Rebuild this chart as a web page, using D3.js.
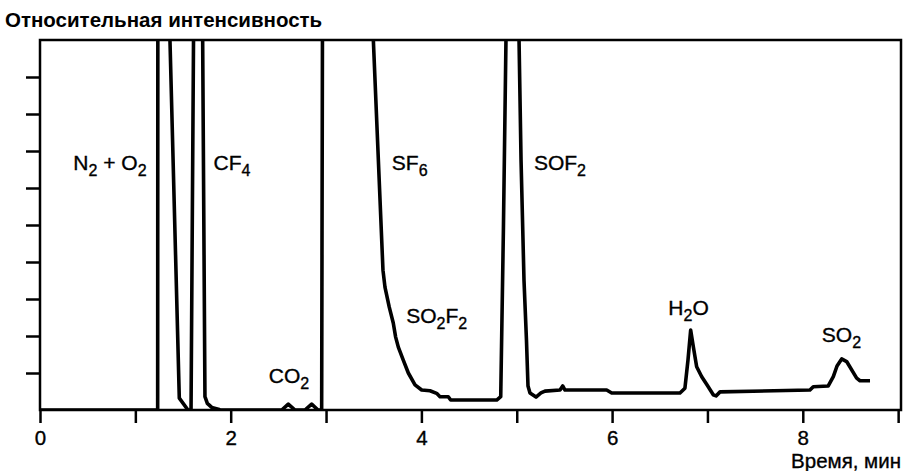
<!DOCTYPE html>
<html>
<head>
<meta charset="utf-8">
<script src="https://cdn.jsdelivr.net/npm/d3@7"></script>
<style>
  body { margin: 0; background: #fff; }
  svg { font-family: "Liberation Sans", Arial, sans-serif; }
  .trace { fill: none; stroke: #000; stroke-width: 3.6; stroke-linejoin: round; }
  .frame { fill: none; stroke: #000; stroke-width: 2.5; }
  .tick line { stroke: #000; stroke-width: 2.5; }
  .lbl { font-size: 21px; fill: #000; stroke: #000; stroke-width: 0.35px; }
</style>
</head>
<body>
<div id="chart"></div>
<script>
// chart size, same as the window
var width = 905,
  height = 471;
var margin = { top: 40, right: 4, bottom: 61, left: 40 };

// time in minutes
var time = [
  0, 1.234, 1.236, 1.363, 1.363, 1.461, 1.552,
  1.584, 1.61, 1.612, 1.704, 1.706, 1.73, 1.755, 1.801, 1.87, 1.888,
  2.535, 2.604, 2.674, 2.779, 2.849, 2.916, 2.954, 2.963, 3.49,
  3.496, 3.597, 3.618, 3.663, 3.705, 3.73, 3.758, 3.81, 3.863, 3.933, 4.003, 4.09,
  4.16, 4.195, 4.282, 4.307, 4.79, 4.832, 4.86, 4.887, 4.89, 5.02,
  5.024, 5.045, 5.076, 5.102, 5.118, 5.139, 5.202, 5.254, 5.296, 5.454, 5.482, 5.506,
  5.943, 5.996, 6.712, 6.764, 6.796, 6.824, 6.852, 6.887, 6.94, 6.995, 7.061, 7.09,
  7.132, 8.075, 8.11, 8.267, 8.32, 8.359, 8.408, 8.46, 8.565, 8.6, 8.705
];
// relative intensity (values above 10 run off the top of the frame)
var intensity = [
  0, 0, 11, 11, 10, 0.32, 0,
  0, 10, 11, 11, 10, 0.36, 0.18, 0.07, 0.02, 0,
  0, 0.16, 0, 0, 0.16, 0, 0, 11, 11,
  10, 3.78, 3.32, 2.78, 2.35, 1.97, 1.7, 1.35, 1.0, 0.68, 0.54, 0.52,
  0.45, 0.36, 0.36, 0.27, 0.27, 0.36, 4.86, 10, 11, 11,
  10, 6.76, 3.51, 1.89, 0.65, 0.46, 0.35, 0.46, 0.51, 0.54, 0.65, 0.54,
  0.54, 0.46, 0.46, 0.59, 1.35, 2.16, 1.71, 1.17, 0.9, 0.68, 0.41, 0.38,
  0.49, 0.54, 0.63, 0.65, 0.9, 1.19, 1.38, 1.31, 0.86, 0.79, 0.79
];

var xTicks = [0, 1, 2, 3, 4, 5, 6, 7, 8, 9];
var yTicks = [1, 2, 3, 4, 5, 6, 7, 8, 9];

// peak names: text, subscript pairs, and where they sit (minutes, intensity)
var peakNames = [
  { parts: [["N", "2"], [" + O", "2"]], t: 0.35, v: 6.5 },
  { parts: [["CF", "4"]], t: 1.82, v: 6.5 },
  { parts: [["SF", "6"]], t: 3.69, v: 6.5 },
  { parts: [["SOF", "2"]], t: 5.18, v: 6.5 },
  { parts: [["SO", "2"], ["F", "2"]], t: 3.84, v: 2.34 },
  { parts: [["CO", "2"]], t: 2.4, v: 0.72 },
  { parts: [["H", "2"], ["O", ""]], t: 6.59, v: 2.57 },
  { parts: [["SO", "2"]], t: 8.2, v: 1.84 }
];

var points = time.map(function(t, i) {
  return { t: t, v: intensity[i] };
});

var svg = d3
  .select("#chart")
  .append("svg")
  .attr("width", width)
  .attr("height", height);

var x = d3
  .scaleLinear()
  .domain([0, 9.03])
  .range([margin.left, width - margin.right]);

var y = d3
  .scaleLinear()
  .domain([0, 10])
  .range([height - margin.bottom, margin.top]);

svg
  .append("clipPath")
  .attr("id", "plot-clip")
  .append("rect")
  .attr("x", x(0))
  .attr("y", y(10))
  .attr("width", x(9.03) - x(0))
  .attr("height", y(0) - y(10));

//x axis, labels only on even minutes
var xAxis = d3
  .axisBottom(x)
  .tickValues(xTicks)
  .tickSize(13)
  .tickFormat(function(d) {
    return d % 2 === 0 ? d : "";
  });

svg
  .append("g")
  .attr("transform", "translate(0," + y(0) + ")")
  .call(xAxis)
  .call(function(g) {
    g.select(".domain").remove();
    g.selectAll("text")
      .attr("class", "lbl")
      .attr("y", 16)
      .attr("dy", "0.95em")
      .style("font-size", "20.5px");
  });

//y axis, ticks with no labels
svg
  .append("g")
  .attr("transform", "translate(" + x(0) + ",0)")
  .call(d3.axisLeft(y).tickValues(yTicks).tickSize(14).tickFormat(""))
  .call(function(g) {
    g.select(".domain").remove();
  });

svg
  .append("rect")
  .attr("class", "frame")
  .attr("x", x(0))
  .attr("y", y(10))
  .attr("width", x(9.03) - x(0))
  .attr("height", y(0) - y(10));

var line = d3
  .line()
  .x(function(d) { return x(d.t); })
  .y(function(d) { return y(d.v); });

svg
  .append("path")
  .datum(points)
  .attr("class", "trace")
  .attr("clip-path", "url(#plot-clip)")
  .attr("d", line);

//peak labels with subscripts
peakNames.forEach(function(p) {
  var text = svg
    .append("text")
    .attr("class", "lbl")
    .attr("x", x(p.t))
    .attr("y", y(p.v));
  var shift = 0;
  p.parts.forEach(function(part) {
    text.append("tspan").text(part[0]).attr("dy", -shift);
    shift = 0;
    if (part[1]) {
      text.append("tspan").text(part[1]).attr("dy", 6).style("font-size", "16px");
      shift = 6;
    }
  });
});

svg
  .append("text")
  .attr("class", "lbl")
  .attr("x", 5)
  .attr("y", 27)
  .style("font-size", "20.5px")
  .style("font-weight", "bold")
  .style("stroke-width", "0")
  .text("Относительная интенсивность");

svg
  .append("text")
  .attr("class", "lbl")
  .attr("x", width - 4)
  .attr("y", 468)
  .attr("text-anchor", "end")
  .style("font-size", "20.5px")
  .text("Время, мин");
</script>
</body>
</html>
